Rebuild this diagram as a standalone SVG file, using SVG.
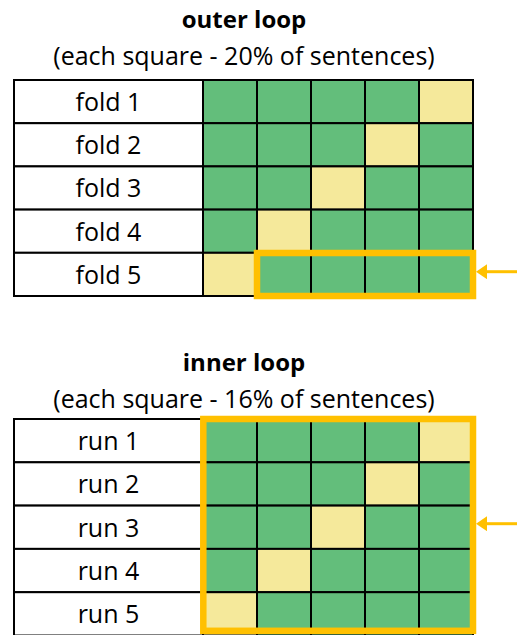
<svg xmlns="http://www.w3.org/2000/svg" width="517" height="635" viewBox="0 0 517 635">
<style>
.t{font-family:"Open Sans","Noto Sans",sans-serif;font-size:25px;fill:#000;text-anchor:middle}
.b{font-weight:bold;font-size:24px}
.lab{fill:#fff;stroke:#000;stroke-width:2}
.g{fill:#63BE7B;stroke:#000;stroke-width:2}
.y{fill:#F5E99B;stroke:#000;stroke-width:2}
.hl{fill:none;stroke:#FFC000;stroke-width:6.5}
.arr{stroke:#FFC000;stroke-width:3;fill:none}
</style>
<defs>
<marker id="ah" viewBox="0 0 11 15" refX="0" refY="7.5" markerWidth="11" markerHeight="15" markerUnits="userSpaceOnUse" orient="auto-start-reverse">
<path d="M0,0 L11,7.5 L0,15 Z" fill="#FFC000"/>
</marker>
</defs>
<text class="t b" x="244" y="28">outer loop</text>
<text class="t" x="244" y="65">(each square - 20% of sentences)</text>
<g id="outer-table">
<g id="fold1"><rect class="lab" x="14" y="80" width="189" height="43.2"/><text class="t" x="108.5" y="111">fold 1</text>
<rect class="g" x="203" y="80" width="54" height="43.2"/><rect class="g" x="257" y="80" width="54" height="43.2"/><rect class="g" x="311" y="80" width="54" height="43.2"/><rect class="g" x="365" y="80" width="54" height="43.2"/><rect class="y" x="419" y="80" width="54" height="43.2"/></g>
<g id="fold2"><rect class="lab" x="14" y="123.2" width="189" height="43.2"/><text class="t" x="108.5" y="154.2">fold 2</text>
<rect class="g" x="203" y="123.2" width="54" height="43.2"/><rect class="g" x="257" y="123.2" width="54" height="43.2"/><rect class="g" x="311" y="123.2" width="54" height="43.2"/><rect class="y" x="365" y="123.2" width="54" height="43.2"/><rect class="g" x="419" y="123.2" width="54" height="43.2"/></g>
<g id="fold3"><rect class="lab" x="14" y="166.4" width="189" height="43.2"/><text class="t" x="108.5" y="197.4">fold 3</text>
<rect class="g" x="203" y="166.4" width="54" height="43.2"/><rect class="g" x="257" y="166.4" width="54" height="43.2"/><rect class="y" x="311" y="166.4" width="54" height="43.2"/><rect class="g" x="365" y="166.4" width="54" height="43.2"/><rect class="g" x="419" y="166.4" width="54" height="43.2"/></g>
<g id="fold4"><rect class="lab" x="14" y="209.6" width="189" height="43.2"/><text class="t" x="108.5" y="240.6">fold 4</text>
<rect class="g" x="203" y="209.6" width="54" height="43.2"/><rect class="y" x="257" y="209.6" width="54" height="43.2"/><rect class="g" x="311" y="209.6" width="54" height="43.2"/><rect class="g" x="365" y="209.6" width="54" height="43.2"/><rect class="g" x="419" y="209.6" width="54" height="43.2"/></g>
<g id="fold5"><rect class="lab" x="14" y="252.8" width="189" height="43.2"/><text class="t" x="108.5" y="283.8">fold 5</text>
<rect class="y" x="203" y="252.8" width="54" height="43.2"/><rect class="g" x="257" y="252.8" width="54" height="43.2"/><rect class="g" x="311" y="252.8" width="54" height="43.2"/><rect class="g" x="365" y="252.8" width="54" height="43.2"/><rect class="g" x="419" y="252.8" width="54" height="43.2"/></g>
<rect id="outer-highlight" class="hl" x="257" y="253" width="216" height="43"/>
</g>
<text class="t b" x="244" y="371">inner loop</text>
<text class="t" x="244" y="408">(each square - 16% of sentences)</text>
<g id="inner-table">
<g id="run1"><rect class="lab" x="14" y="419" width="189" height="43.3"/><text class="t" x="108.5" y="450">run 1</text>
<rect class="g" x="203" y="419" width="54" height="43.3"/><rect class="g" x="257" y="419" width="54" height="43.3"/><rect class="g" x="311" y="419" width="54" height="43.3"/><rect class="g" x="365" y="419" width="54" height="43.3"/><rect class="y" x="419" y="419" width="54" height="43.3"/></g>
<g id="run2"><rect class="lab" x="14" y="462.3" width="189" height="43.3"/><text class="t" x="108.5" y="493.3">run 2</text>
<rect class="g" x="203" y="462.3" width="54" height="43.3"/><rect class="g" x="257" y="462.3" width="54" height="43.3"/><rect class="g" x="311" y="462.3" width="54" height="43.3"/><rect class="y" x="365" y="462.3" width="54" height="43.3"/><rect class="g" x="419" y="462.3" width="54" height="43.3"/></g>
<g id="run3"><rect class="lab" x="14" y="505.6" width="189" height="43.3"/><text class="t" x="108.5" y="536.6">run 3</text>
<rect class="g" x="203" y="505.6" width="54" height="43.3"/><rect class="g" x="257" y="505.6" width="54" height="43.3"/><rect class="y" x="311" y="505.6" width="54" height="43.3"/><rect class="g" x="365" y="505.6" width="54" height="43.3"/><rect class="g" x="419" y="505.6" width="54" height="43.3"/></g>
<g id="run4"><rect class="lab" x="14" y="548.9" width="189" height="43.3"/><text class="t" x="108.5" y="579.9">run 4</text>
<rect class="g" x="203" y="548.9" width="54" height="43.3"/><rect class="y" x="257" y="548.9" width="54" height="43.3"/><rect class="g" x="311" y="548.9" width="54" height="43.3"/><rect class="g" x="365" y="548.9" width="54" height="43.3"/><rect class="g" x="419" y="548.9" width="54" height="43.3"/></g>
<g id="run5"><rect class="lab" x="14" y="592.2" width="189" height="43.3"/><text class="t" x="108.5" y="623.2">run 5</text>
<rect class="y" x="203" y="592.2" width="54" height="43.3"/><rect class="g" x="257" y="592.2" width="54" height="43.3"/><rect class="g" x="311" y="592.2" width="54" height="43.3"/><rect class="g" x="365" y="592.2" width="54" height="43.3"/><rect class="g" x="419" y="592.2" width="54" height="43.3"/></g>
<rect id="inner-highlight" class="hl" x="203.3" y="419" width="269.7" height="211.8"/>
</g>
<g id="connectors">
<line class="arr" x1="517" y1="271.7" x2="487" y2="271.7" marker-end="url(#ah)"/>
<line class="arr" x1="517" y1="523.7" x2="487" y2="523.7" marker-end="url(#ah)"/>
</g>
</svg>
